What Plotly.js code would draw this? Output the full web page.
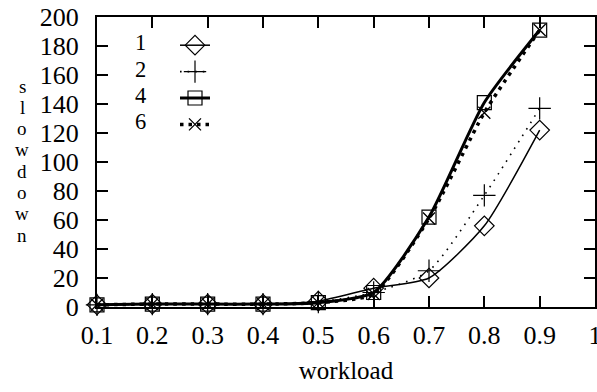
<!DOCTYPE html>
<html>
<head>
<meta charset="utf-8">
<script src="https://cdn.plot.ly/plotly-3.0.1.min.js"></script>
<style>html,body{margin:0;padding:0;background:#fff;}#chart{width:597px;height:392px;}</style>
</head>
<body>
<div id="chart"></div>
<script>
const workload = [0.1, 0.2, 0.3, 0.4, 0.5, 0.6, 0.7, 0.8, 0.9];
const s1 = [1.5, 2, 2, 2, 4, 13, 20, 56, 122];
const s2 = [1.5, 2, 2, 2, 3.5, 10, 25, 77, 137];
const s4 = [1.5, 2, 2, 2, 3, 10, 62, 141, 191];
const s6 = [1.5, 2, 2, 2, 3, 9, 61, 134, 191];
const seriesNames = ['1', '2', '4', '6'];
const xTickVals = [0.1, 0.2, 0.3, 0.4, 0.5, 0.6, 0.7, 0.8, 0.9, 1];
const xTickText = ['0.1', '0.2', '0.3', '0.4', '0.5', '0.6', '0.7', '0.8', '0.9', '1'];
const yTickVals = [0, 20, 40, 60, 80, 100, 120, 140, 160, 180, 200];
const yTitle = 'slowdown';
const xTitle = 'workload';

const FONT = 'Liberation Serif, Times New Roman, serif';
const styles = [
  {line: {color: '#000', width: 1.5, dash: 'solid', shape: 'spline', smoothing: 0.6}, marker: {symbol: 'diamond-open', size: 15, color: '#000', line: {width: 1.2, color: '#000'}}},
  {line: {color: '#000', width: 1.6, dash: '1.6px,6px', shape: 'spline', smoothing: 0.6}, marker: {symbol: 'cross-thin-open', size: 16, color: '#000', line: {width: 1.2, color: '#000'}}},
  {line: {color: '#000', width: 3, dash: 'solid', shape: 'spline', smoothing: 0.6}, marker: {symbol: 'square-open', size: 14, color: '#000', line: {width: 1.2, color: '#000'}}},
  {line: {color: '#000', width: 3.5, dash: '3.5px,5px', shape: 'spline', smoothing: 0.6}, marker: {symbol: 'x-thin-open', size: 12, color: '#000', line: {width: 1.3, color: '#000'}}}
];
const ys = [s1, s2, s4, s6];
const traces = ys.map((y, i) => ({
  x: workload, y: y, name: seriesNames[i], type: 'scatter', mode: 'lines+markers',
  line: styles[i].line, marker: styles[i].marker, cliponaxis: false
}));

const plotTop = 17, plotBottom = 307, plotH = plotBottom - plotTop;
const annotations = [];
// stacked vertical y-axis title, one letter per line
yTitle.split('').forEach((ch, i) => {
  const py = 86 + 21.3 * i;
  annotations.push({text: ch, xref: 'paper', yref: 'paper', x: (22 - 97) / 498, y: (plotBottom - py) / plotH,
    xanchor: 'center', yanchor: 'middle', showarrow: false, borderpad: 0,
    font: {family: FONT, size: 19, color: '#000'}});
});
// legend labels (left of samples)
seriesNames.forEach((n, i) => {
  const py = 43 + 26.3 * i;
  annotations.push({text: n, xref: 'paper', yref: 'paper', x: (147 - 97) / 498, y: (plotBottom - py) / plotH,
    xanchor: 'right', yanchor: 'middle', showarrow: false, borderpad: 0,
    font: {family: FONT, size: 22.5, color: '#000'}});
});

const layout = {
  width: 597, height: 392,
  margin: {l: 97, r: 2, t: 17, b: 85},
  paper_bgcolor: '#fff', plot_bgcolor: '#fff',
  font: {family: FONT, size: 26, color: '#000'},
  showlegend: true,
  legend: {x: (175 - 97) / 498, y: (plotBottom - 27) / plotH, xanchor: 'left', yanchor: 'top',
    bgcolor: 'rgba(0,0,0,0)', font: {family: FONT, size: 18, color: 'rgba(0,0,0,0)'}, tracegroupgap: 0},
  xaxis: {
    range: [0.1, 1], tickvals: xTickVals, ticktext: xTickText,
    showgrid: false, zeroline: false, showline: true, linewidth: 2, linecolor: '#000', mirror: 'ticks',
    ticks: 'inside', ticklen: 11, tickwidth: 2, tickcolor: '#000', ticklabelstandoff: 4,
    ticklabeloverflow: 'allow',
    tickfont: {family: FONT, size: 26, color: '#000'},
    title: {text: xTitle, font: {family: FONT, size: 25, color: '#000'}, standoff: 12}
  },
  yaxis: {
    range: [0, 200], tickvals: yTickVals,
    showgrid: false, zeroline: false, showline: true, linewidth: 2, linecolor: '#000', mirror: 'ticks',
    ticks: 'inside', ticklen: 11, tickwidth: 2, tickcolor: '#000', ticklabelstandoff: 11,
    ticklabeloverflow: 'allow',
    tickfont: {family: FONT, size: 26, color: '#000'}
  },
  annotations: annotations
};
Plotly.newPlot('chart', traces, layout, {displayModeBar: false, staticPlot: true});
</script>
</body>
</html>
